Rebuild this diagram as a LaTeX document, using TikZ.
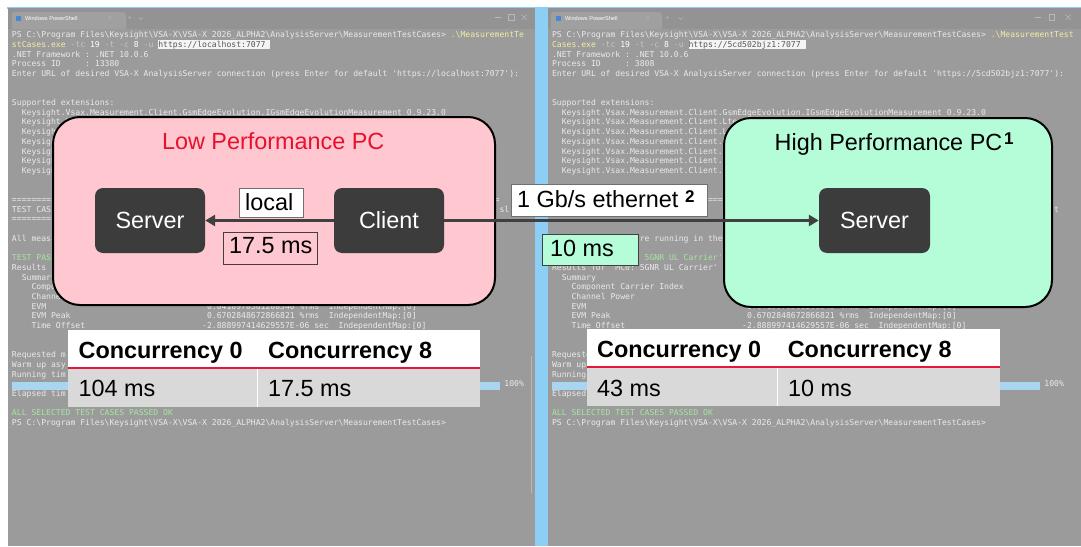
\documentclass[tikz,border=0pt]{standalone}
\usepackage{fontspec}
\setmainfont{Liberation Sans}
\setmonofont{DejaVu Sans Mono}
\usetikzlibrary{arrows.meta}
\definecolor{termbg}{HTML}{9B9B9B}
\definecolor{barbg}{HTML}{939393}
\definecolor{tabbg}{HTML}{A0A0A0}
\definecolor{strip}{HTML}{8DCFF4}
\definecolor{termfg}{HTML}{EAEAEA}
\definecolor{termyel}{HTML}{F3EEA2}
\definecolor{termdim}{HTML}{C6C6C6}
\definecolor{termgrn}{HTML}{A6E6A0}
\definecolor{hlbg}{HTML}{F4F4F4}
\definecolor{hlfg}{HTML}{555555}
\definecolor{progress}{HTML}{A8D5F2}
\definecolor{pinkc}{HTML}{FFC7CF}
\definecolor{mintc}{HTML}{B5FDD8}
\definecolor{darkbox}{HTML}{3C3C3C}
\definecolor{wire}{HTML}{404040}
\definecolor{lblgray}{HTML}{707070}
\definecolor{lowred}{HTML}{E8112D}
\definecolor{tablegray}{HTML}{D9D9D9}
\definecolor{tablered}{HTML}{E3173E}
\definecolor{ctlc}{HTML}{B8B8B8}
\definecolor{iconblue}{HTML}{4A86D8}
\newcommand\bs{\textbackslash}
\newcommand\eqten{==========}
\newcommand\eqhundred{\eqten\eqten\eqten\eqten\eqten\eqten\eqten\eqten\eqten\eqten}
\newcommand\pspath{PS C:\bs Program Files\bs Keysight\bs VSA-X\bs VSA-X 2026\_ALPHA2\bs AnalysisServer\bs MeasurementTestCases>}
\newcommand\tx[6]{\node[term,text=#5] (#1) at ({#2+#4*4.876},{37.6+#3*9.7}) {#6};}
\begin{document}
\begin{tikzpicture}[x=1pt,y=-1pt,
  term/.style={font=\ttfamily\fontsize{8.1}{9.7}\selectfont, inner sep=0pt, outer sep=0pt, anchor=base west},
  hl/.style={term, fill=hlbg, text=hlfg, inner ysep=0.5pt, text height=6.8pt, text depth=1.6pt},
  big/.style={font=\fontsize{23.4}{28}\selectfont, inner sep=0pt},
  bigb/.style={font=\bfseries\fontsize{23.4}{28}\selectfont, inner sep=0pt, anchor=base west, text=black},
  supb/.style={font=\bfseries\fontsize{17}{17}\selectfont, inner sep=0pt, anchor=base west},
  pcbox/.style={draw=black, line width=2pt, rounded corners=27pt, inner sep=0pt},
  unit/.style={fill=darkbox, rounded corners=8pt, big, text=white, minimum width=110pt, minimum height=65pt},
  lbl/.style={inner sep=0pt, line width=0.8pt},
  wire/.style={draw=wire, line width=3pt, -{Triangle[length=10pt,width=11pt]}},
  tabtxt/.style={font=\fontsize{5.6}{6}\selectfont, text=white, inner sep=0pt, anchor=west},
  tabsym/.style={font=\fontsize{7}{7}\selectfont, text=ctlc, inner sep=0pt},
  ctl/.style={draw=ctlc, line width=0.6pt}
]
\useasboundingbox (0,0) rectangle (1081,546);
\fill[white] (0,0) rectangle (1081,546);
% windows
\fill[strip] (7,6.5) rectangle (1081,8.5);
\fill[termbg] (8,8) rectangle (535,546);
\fill[strip] (535,7) rectangle (548,546);
\fill[termbg] (548,8) rectangle (1081,546);
\fill[barbg] (8,8) rectangle (535,29);
\fill[barbg] (548,8) rectangle (1081,29);
\fill[tabbg] (12,29) [rounded corners=3pt] -- (12,12) -- (126,12) [sharp corners] -- (126,29) -- cycle;
\fill[tabbg] (551,29) [rounded corners=3pt] -- (551,12) -- (662,12) [sharp corners] -- (662,29) -- cycle;
% tab contents left
\fill[iconblue] (15.5,16) rectangle (21,21);
\node[tabtxt] (tabL) at (24.8,18.7) {Windows PowerShell};
\node[tabsym] (tabLx) at (110,18.5) {×};
\node[tabsym] (tabLp) at (130,18.5) {+};
\draw[ctl] (138.5,17.5) -- (140.5,19.5) -- (142.5,17.5);
\draw[ctl] (494.5,17.5) -- (500.5,17.5);
\draw[ctl] (508.5,14.5) rectangle (514,20);
\draw[ctl] (521.5,14.5) -- (527,20) (527,14.5) -- (521.5,20);
% tab contents right
\fill[iconblue] (555.5,16) rectangle (561,21);
\node[tabtxt] (tabR) at (564.8,18.7) {Windows PowerShell};
\node[tabsym] (tabRx) at (647.6,18.5) {×};
\node[tabsym] (tabRp) at (667.6,18.5) {+};
\draw[ctl] (678.7,17.5) -- (680.7,19.5) -- (682.7,17.5);
\draw[ctl] (1034.5,17.5) -- (1040.5,17.5);
\draw[ctl] (1049,14.5) rectangle (1054.5,20);
\draw[ctl] (1065.5,14.5) -- (1071,20) (1071,14.5) -- (1065.5,20);
% ---------- left terminal text
\tx{L0a}{12}{0}{0}{termfg}{\pspath}
\tx{L0b}{12}{0}{90}{termyel}{.\bs MeasurementTe}
\tx{L1a}{12}{1}{0}{termyel}{stCases.exe}
\tx{L1b}{12}{1}{12}{termdim}{-tc}
\tx{L1c}{12}{1}{16}{white}{19}
\tx{L1d}{12}{1}{19}{termdim}{-t -c}
\tx{L1e}{12}{1}{25}{white}{8}
\tx{L1f}{12}{1}{27}{termdim}{-u}
\node[hl] (L1g) at ({12+30*4.876},{37.6+9.7}) {https://localhost:7077\hphantom{0}};
\tx{L2}{12}{2}{0}{termfg}{.NET Framework : .NET 10.0.6}
\tx{L3}{12}{3}{0}{termfg}{Process ID\ \ \ \ \ : 13380}
\tx{L4}{12}{4}{0}{termfg}{Enter URL of desired VSA-X AnalysisServer connection (press Enter for default 'https://localhost:7077'):}
\tx{L7}{12}{7}{0}{termfg}{Supported extensions:}
\tx{L8}{12}{8}{2}{termfg}{Keysight.Vsax.Measurement.Client.GsmEdgeEvolution.IGsmEdgeEvolutionMeasurement 0.9.23.0}
\tx{L9}{12}{9}{2}{termfg}{Keysight.V}
\foreach \i in {10,...,14}{\tx{Lk\i}{12}{\i}{2}{termfg}{Keysigh}}
\tx{L17a}{12}{17}{0}{termfg}{========}
\tx{L17b}{12}{17}{99}{termfg}{=}
\tx{L18a}{12}{18}{0}{termfg}{TEST CAS}
\tx{L18b}{12}{18}{100}{termfg}{sl}
\tx{L19}{12}{19}{0}{termfg}{========}
\tx{L21}{12}{21}{0}{termfg}{All meas}
\tx{L23}{12}{23}{0}{termgrn}{TEST PASS}
\tx{L24}{12}{24}{0}{termfg}{Results f}
\tx{L25}{12}{25}{2}{termfg}{Summary}
\tx{L26}{12}{26}{4}{termfg}{Compo}
\tx{L27}{12}{27}{4}{termfg}{Channel}
\tx{L28a}{12}{28}{4}{termfg}{EVM}
\tx{L28b}{12}{28}{40}{termfg}{0.0410970561200340 \%rms\ \ IndependentMap:[0]}
\tx{L29a}{12}{29}{4}{termfg}{EVM Peak}
\tx{L29b}{12}{29}{40}{termfg}{0.6702848672866821 \%rms\ \ IndependentMap:[0]}
\tx{L30a}{12}{30}{4}{termfg}{Time Offset}
\tx{L30b}{12}{30}{39}{termfg}{-2.888997414629557E-06 sec\ \ IndependentMap:[0]}
\tx{L33}{12}{33}{0}{termfg}{Requested m}
\tx{L34}{12}{34}{0}{termfg}{Warm up asy}
\tx{L35}{12}{35}{0}{termfg}{Running tim}
\fill[progress] (12,381.7) rectangle (499.6,390);
\tx{L36}{12}{36}{101}{termfg}{100\%}
\tx{L37}{12}{37}{0}{termfg}{Elapsed tim}
\tx{L39}{12}{39}{0}{termgrn}{ALL SELECTED TEST CASES PASSED OK}
\tx{L40}{12}{40}{0}{termfg}{\pspath}
\draw[ctlc, line width=1.2pt] (531.5,356) -- (531.5,493);
% ---------- right terminal text
\tx{R0a}{552}{0}{0}{termfg}{\pspath}
\tx{R0b}{552}{0}{90}{termyel}{.\bs MeasurementTest}
\tx{R1a}{552}{1}{0}{termyel}{Cases.exe}
\tx{R1b}{552}{1}{10}{termdim}{-tc}
\tx{R1c}{552}{1}{14}{white}{19}
\tx{R1d}{552}{1}{17}{termdim}{-t -c}
\tx{R1e}{552}{1}{23}{white}{8}
\tx{R1f}{552}{1}{25}{termdim}{-u}
\node[hl] (R1g) at ({552+28*4.876},{37.6+9.7}) {https://5cd502bjz1:7077\hphantom{0}};
\tx{R2}{552}{2}{0}{termfg}{.NET Framework : .NET 10.0.6}
\tx{R3}{552}{3}{0}{termfg}{Process ID\ \ \ \ \ : 3808}
\tx{R4}{552}{4}{0}{termfg}{Enter URL of desired VSA-X AnalysisServer connection (press Enter for default 'https://5cd502bjz1:7077'):}
\tx{R7}{552}{7}{0}{termfg}{Supported extensions:}
\tx{R8}{552}{8}{2}{termfg}{Keysight.Vsax.Measurement.Client.GsmEdgeEvolution.IGsmEdgeEvolutionMeasurement 0.9.23.0}
\tx{R9}{552}{9}{2}{termfg}{Keysight.Vsax.Measurement.Client.Lte}
\tx{R10}{552}{10}{2}{termfg}{Keysight.Vsax.Measurement.Client.L}
\tx{R11}{552}{11}{2}{termfg}{Keysight.Vsax.Measurement.Client.L}
\foreach \i in {12,...,14}{\tx{Rk\i}{552}{\i}{2}{termfg}{Keysight.Vsax.Measurement.Client.}}
\tx{R17}{552}{17}{32}{termfg}{===}
\tx{R18}{552}{18}{103}{termfg}{t}
\tx{R21}{552}{21}{18}{termfg}{re running in the}
\tx{R23}{552}{23}{19}{termgrn}{5GNR UL Carrier'}
\tx{R24}{552}{24}{0}{termfg}{Results for 'MC0: 5GNR UL Carrier'}
\tx{R25}{552}{25}{2}{termfg}{Summary}
\tx{R26}{552}{26}{4}{termfg}{Component Carrier Index}
\tx{R27}{552}{27}{4}{termfg}{Channel Power}
\tx{R28a}{552}{28}{4}{termfg}{EVM}
\tx{R28b}{552}{28}{40}{termfg}{0.0410970561200340 \%rms\ \ IndependentMap:[0]}
\tx{R29a}{552}{29}{4}{termfg}{EVM Peak}
\tx{R29b}{552}{29}{40}{termfg}{0.6702848672866821 \%rms\ \ IndependentMap:[0]}
\tx{R30a}{552}{30}{4}{termfg}{Time Offset}
\tx{R30b}{552}{30}{39}{termfg}{-2.888997414629557E-06 sec\ \ IndependentMap:[0]}
\tx{R33}{552}{33}{0}{termfg}{Requeste}
\tx{R34}{552}{34}{0}{termfg}{Warm up}
\tx{R35}{552}{35}{0}{termfg}{Running}
\fill[progress] (552,381.7) rectangle (1039.6,390);
\tx{R36}{552}{36}{101}{termfg}{100\%}
\tx{R37}{552}{37}{0}{termfg}{Elapsed}
\tx{R39}{552}{39}{0}{termgrn}{ALL SELECTED TEST CASES PASSED OK}
\tx{R40}{552}{40}{0}{termfg}{\pspath}
% ---------- PC boxes
\node[pcbox, fill=pinkc, minimum width=442pt, minimum height=188pt] (lowpc) at (274,211) {};
\node[big, text=lowred, anchor=base] (lowtitle) at (273.2,149) {Low Performance PC};
\node[pcbox, fill=mintc, minimum width=328pt, minimum height=189pt] (highpc) at (888,212.5) {};
\node[big, anchor=base west] (hightitle) at (774.5,150) {High Performance PC};
\node[supb] (sup1) at (1004,144) {1};
% ---------- units
\node[unit] (srvL) at (150,220.5) {Server};
\node[unit] (cli) at (389,220.5) {Client};
\node[unit, minimum width=111pt] (srvR) at (874.5,220.5) {Server};
\draw[wire] (cli.west) -- (srvL.east);
\draw[wire] (cli.east) -- (srvR.west);
% ---------- labels
\node[lbl, fill=white, draw=lblgray, minimum width=64pt, minimum height=29pt] (localbox) at (271,202.5) {};
\node[big, anchor=base west] (localtxt) at (245,210) {local};
\node[lbl, draw=wire, minimum width=94pt, minimum height=32pt] (latL) at (270,248) {};
\node[big, anchor=base west] (latLtxt) at (229,253.5) {17.5 ms};
\node[lbl, fill=white, draw=lblgray, minimum width=196pt, minimum height=32pt] (ethbox) at (609,200) {};
\node[big, anchor=base west] (ethtxt) at (517,207.5) {1 Gb/s ethernet};
\node[supb] (sup2) at (685,202.5) {2};
\node[lbl, fill=mintc, draw=wire, minimum width=96pt, minimum height=31pt] (latR) at (590,249.5) {};
\node[big, anchor=base west] (latRtxt) at (550,256.5) {10 ms};
% ---------- tables
\fill[white] (68,330) rectangle (480,368);
\fill[tablegray] (68,368) rectangle (480,407);
\draw[white, line width=1pt] (257.6,368) -- (257.6,407);
\draw[tablered, line width=2.2pt] (68,368) -- (480,368);
\node[bigb] (tL00) at (78.5,358.3) {Concurrency 0};
\node[bigb] (tL01) at (268,358.3) {Concurrency 8};
\node[big, anchor=base west] (tL10) at (78.5,396.7) {104 ms};
\node[big, anchor=base west] (tL11) at (268,396.7) {17.5 ms};
\fill[white] (587,329) rectangle (1000,367);
\fill[tablegray] (587,367) rectangle (1000,406);
\draw[white, line width=1pt] (777,367) -- (777,406);
\draw[tablered, line width=2.2pt] (587,367) -- (1000,367);
\node[bigb] (tR00) at (597,357.5) {Concurrency 0};
\node[bigb] (tR01) at (787.6,357.5) {Concurrency 8};
\node[big, anchor=base west] (tR10) at (597,396) {43 ms};
\node[big, anchor=base west] (tR11) at (788,396) {10 ms};
\end{tikzpicture}
\end{document}
